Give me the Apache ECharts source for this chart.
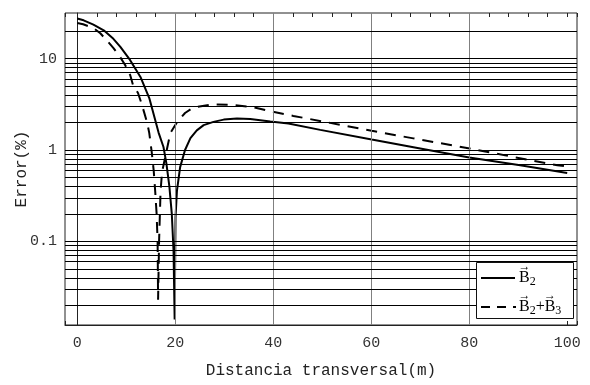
<!DOCTYPE html>
<html>
<head>
    <meta charset="utf-8">
    <title>Error vs distancia transversal</title>
    <script src="https://cdn.jsdelivr.net/npm/echarts@6/dist/echarts.min.js"></script>
    <style>
        html, body { margin: 0; padding: 0; background: #fff; }
        #chart { width: 590px; height: 385px; }
    </style>
</head>
<body>
<div id="chart"></div>
<script type="text/javascript">
// valores (x en m, error en %)
var xB2 = [0, 1.3, 3.3, 5.4, 7.2, 8.8, 10.8, 12.9, 14.7, 16.6, 17.6, 18.2, 18.8, 19.3, 19.65, 19.88,
           20.06, 20.35, 21.0, 22.0, 23.1, 24.4, 25.8, 27.8, 29.9, 32.6, 35.3, 39.4, 43.1, 49.6, 60.1, 70, 80, 90.4, 100];
var yB2 = [27.4, 26.2, 23.5, 20.4, 16.8, 13.4, 9.6, 6.3, 3.7, 1.55, 1.08, 0.71, 0.40, 0.20, 0.08, 0.014,
           0.185, 0.36, 0.65, 1.0, 1.35, 1.64, 1.87, 2.03, 2.15, 2.21, 2.18, 2.05, 1.95, 1.66, 1.30, 1.04, 0.83, 0.68, 0.56];

var xB23 = [0, 1.2, 3.3, 4.7, 6.3, 7.4, 8.8, 9.8, 10.8, 11.4, 12.4, 13.1, 13.7, 14.3, 14.7, 15.2, 15.6, 15.9, 16.2, 16.4, 16.45, 16.5,
            16.7, 17.0, 17.3, 19.0, 20.4, 22.0, 23.7, 27.8, 31.2, 35.7, 39.4, 44.1, 51.6, 60.1, 68.6, 80.1, 89, 98, 100];
var yB23 = [24.5, 23.7, 21.6, 18.9, 15.2, 13, 10.3, 8.45, 6.6, 5.1, 4.2, 3.25, 2.53, 1.96, 1.53, 0.95, 0.6, 0.36, 0.2, 0.1, 0.05, 0.023,
            0.1, 0.35, 0.57, 1.53, 2.03, 2.54, 2.91, 3.16, 3.12, 2.96, 2.65, 2.36, 1.98, 1.62, 1.34, 1.04, 0.84, 0.68, 0.66];

// lineas de la rejilla
var vGrid = [20, 40, 60, 80];
var hGrid = [0.02, 0.03, 0.04, 0.05, 0.06, 0.07, 0.08, 0.09,
             0.1, 0.2, 0.3, 0.4, 0.5, 0.6, 0.7, 0.8, 0.9,
             1, 2, 3, 4, 5, 6, 7, 8, 9, 10, 20];

var nameB2 = 'B2';
var nameB23 = 'B2+B3';

function pairs(xs, ys) {
    var out = [];
    for (var i = 0; i < xs.length; i++) {
        out.push([xs[i], ys[i]]);
    }
    return out;
}

var gridLines = [];
for (var i = 0; i < vGrid.length; i++) {
    gridLines.push({ xAxis: vGrid[i], lineStyle: { color: '#808080', width: 1, type: 'solid' } });
}
for (var i = 0; i < hGrid.length; i++) {
    gridLines.push({ yAxis: hGrid[i], lineStyle: { color: '#000', width: 1, type: 'solid' } });
}

var mono = 'Liberation Mono';
var serif = 'Liberation Serif';

// leyenda dibujada a mano (flechas de vector sobre la B)
var legRich = {
    b: { fontFamily: serif, fontSize: 16, color: '#000', lineHeight: 20, verticalAlign: 'middle' },
    s: { fontFamily: serif, fontSize: 12, color: '#000', lineHeight: 20, verticalAlign: 'bottom' }
};
function arrow(cx, cy) {
    return {
        type: 'text', z: 100, silent: true,
        style: { x: cx, y: cy, text: '\u2192', align: 'center', verticalAlign: 'middle',
                 font: 'bold 12px "' + serif + '"', fill: '#000' }
    };
}
var legendGraphic = [
    { type: 'rect', z: 99, silent: true,
      shape: { x: 476.5, y: 262.5, width: 97, height: 56 },
      style: { fill: '#fff', stroke: '#111', lineWidth: 1 } },
    { type: 'line', z: 100, silent: true,
      shape: { x1: 481, y1: 278, x2: 515, y2: 278 },
      style: { stroke: '#000', lineWidth: 2 } },
    { type: 'line', z: 100, silent: true,
      shape: { x1: 481, y1: 307, x2: 516, y2: 307 },
      style: { stroke: '#000', lineWidth: 2, lineDash: [9, 7] } },
    { type: 'text', z: 100, silent: true,
      style: { x: 519, y: 278, text: '{b|B}{s|2}', verticalAlign: 'middle', rich: legRich } },
    { type: 'text', z: 100, silent: true,
      style: { x: 519, y: 307, text: '{b|B}{s|2}{b|+B}{s|3}', verticalAlign: 'middle', rich: legRich } },
    arrow(524.5, 267),
    arrow(524.5, 296),
    arrow(550, 296)
];

var myChart = echarts.init(document.getElementById('chart'), null, { renderer: 'canvas' });

myChart.setOption({
    animation: false,
    grid: {
        left: 65, right: 13, top: 13, bottom: 60,
        containLabel: false,
        outerBoundsMode: 'none',
        show: true, borderColor: '#222', borderWidth: 1
    },
    legend: { show: false, data: [nameB2, nameB23] },
    graphic: legendGraphic,
    xAxis: [{
        type: 'value',
        min: -2.5,
        max: 102,
        name: 'Distancia transversal(m)',
        nameLocation: 'middle',
        nameGap: 38,
        nameTextStyle: { fontFamily: mono, fontSize: 16, color: '#222' },
        axisLine: { show: true, lineStyle: { color: '#222' } },
        axisTick: { show: true, inside: true, length: 4, lineStyle: { color: '#222' } },
        axisLabel: {
            margin: 11,
            fontFamily: mono, fontSize: 15, color: '#333',
            formatter: function (v) { return (Math.abs(v % 20) < 1e-9) ? String(v) : ''; }
        },
        splitLine: { show: false }
    }, {
        type: 'value',
        position: 'top',
        min: -2.5,
        max: 102,
        axisLine: { show: false },
        axisTick: { show: true, inside: true, length: 4, lineStyle: { color: '#222' } },
        minorTick: { show: true, splitNumber: 5, length: 4, lineStyle: { color: '#222' } },
        axisLabel: { show: false },
        splitLine: { show: false }
    }],
    yAxis: {
        type: 'log',
        logBase: 10,
        min: 0.0122,
        max: 31.5,
        name: 'Error(%)',
        nameLocation: 'middle',
        nameGap: 35,
        nameMoveOverlap: false,
        nameTextStyle: { fontFamily: mono, fontSize: 16, color: '#222' },
        axisLine: { show: true, lineStyle: { color: '#222' } },
        axisTick: { show: false },
        axisLabel: {
            margin: 8,
            fontFamily: mono, fontSize: 15, color: '#333',
            formatter: function (v) {
                var l = Math.log(v) / Math.LN10;
                var r = Math.round(l);
                if (Math.abs(l - r) > 1e-6) return '';
                return String(Number(Math.pow(10, r).toPrecision(6)));
            }
        },
        splitLine: { show: false }
    },
    series: [{
        name: 'rejilla',
        type: 'line',
        data: [],
        z: 1,
        silent: true,
        markLine: {
            silent: true,
            symbol: ['none', 'none'],
            label: { show: false },
            animation: false,
            data: gridLines
        }
    }, {
        name: nameB2,
        type: 'line',
        z: 3,
        showSymbol: false,
        symbol: 'none',
        data: pairs(xB2, yB2),
        lineStyle: { color: '#000', width: 2, type: 'solid' }
    }, {
        name: nameB23,
        type: 'line',
        z: 3,
        showSymbol: false,
        symbol: 'none',
        data: pairs(xB23, yB23),
        lineStyle: { color: '#000', width: 2, type: [11, 8] }
    }]
});
</script>
</body>
</html>
